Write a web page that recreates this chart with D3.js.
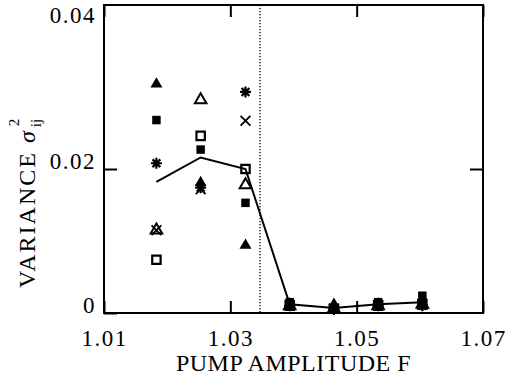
<!DOCTYPE html>
<html>
<head>
<meta charset="utf-8">
<script src="https://cdn.jsdelivr.net/npm/d3@7"></script>
<style>
  body { margin: 0; background: #fff; }
  svg { display: block; font-family: "Liberation Serif", "Times New Roman", serif; }
  .frame { fill: none; stroke: #000; stroke-width: 2; }
</style>
</head>
<body>
<div id="chart"></div>
<script>
// pump amplitude F for each column of measurements
const pumpF = [1.0183, 1.0253, 1.0324, 1.0394, 1.0464, 1.0534, 1.0604];

// variance per symbol series
const filledTriangle = [0.0318, 0.0181, 0.0094, 0.0010, 0.0012, 0.0010, 0.0010];
const filledSquare   = [0.0268, 0.0227, 0.0153, 0.0015, 0.0006, 0.0015, 0.0024];
const asterisk       = [0.0208, 0.0174, 0.0307, 0.0010, 0.0005, 0.0010, 0.0010];
const openTriangle   = [0.0115, 0.0296, 0.0178, 0.0010, 0.0006, 0.0010, 0.0012];
const crossMark      = [0.0115, 0.0172, 0.0267, 0.0011, 0.0006, 0.0011, 0.0013];
const openSquare     = [0.0074, 0.0246, 0.0200, 0.0010, 0.0006, 0.0010, 0.0012];

// mean line
const meanVariance = [0.0182, 0.0216, 0.0200, 0.0012, 0.0007, 0.0012, 0.0015];

// threshold (dotted line)
const thresholdF = [1.0347];

const xTicks = [1.01, 1.03, 1.05, 1.07];
const yTicks = [0, 0.02, 0.04];

const width = 507;
const height = 382;
const margin = {top: 5, right: 24, bottom: 69, left: 104};
const w = width - margin.left - margin.right;
const h = height - margin.top - margin.bottom;
const serif = '"Liberation Serif", "Times New Roman", serif';

let svg = d3.select('#chart').append('svg')
  .attr('width', width)
  .attr('height', height)

let content = svg.append('g')
  .attr('transform', `translate(${margin.left}, ${margin.top})`)

let scaleX = d3.scaleLinear().domain([1.01, 1.07]).range([0, w]);
// 0.02 tick sits 144px above zero in the original, top is a little past 0.04
let scaleY = d3.scaleLinear().domain([0, 0.04278]).range([h, 0]);

// axes, ticks pointing inward
let xBottom = content.append('g')
  .attr('transform', `translate(0, ${h})`)
  .call(d3.axisBottom(scaleX).tickValues(xTicks).tickFormat(d3.format('.2f')).tickSizeInner(-12).tickSizeOuter(0))
xBottom.selectAll('text').attr('y', 33).attr('dy', 0)

content.append('g')
  .call(d3.axisTop(scaleX).tickValues(xTicks).tickFormat('').tickSizeInner(-12).tickSizeOuter(0))

let yLeft = content.append('g')
  .call(d3.axisLeft(scaleY).tickValues(yTicks).tickFormat(d => d === 0 ? '0' : d3.format('.2f')(d)).tickSizeInner(-13).tickSizeOuter(0))
yLeft.selectAll('text').attr('x', -8).attr('dy', -1)
yLeft.selectAll('.tick').filter(d => d === 0.04).select('line').remove()
yLeft.selectAll('.tick').filter(d => d === 0.04).select('text').attr('dy', -3)

content.append('g')
  .attr('transform', `translate(${w}, 0)`)
  .call(d3.axisRight(scaleY).tickValues([0.02]).tickFormat('').tickSizeInner(-13).tickSizeOuter(0))

content.selectAll('.domain').remove()
content.selectAll('.tick line').attr('stroke', '#000').attr('stroke-width', 2)
content.selectAll('.tick text')
  .attr('font-family', serif)
  .attr('font-size', 23)
  .attr('letter-spacing', 1.5)
  .attr('fill', '#000')

content.append('rect')
  .classed('frame', true)
  .attr('x', 0).attr('y', 0)
  .attr('width', w).attr('height', h)

// dotted threshold line
content.selectAll('line.threshold').data(thresholdF).enter().append('line')
  .classed('threshold', true)
  .attr('x1', d => scaleX(d)).attr('x2', d => scaleX(d))
  .attr('y1', 0).attr('y2', h)
  .attr('stroke', '#000')
  .attr('stroke-width', 1.3)
  .attr('stroke-dasharray', '1.3,1.7')

// mean line
let line = d3.line().x((d, i) => scaleX(pumpF[i])).y(d => scaleY(d));
content.append('path')
  .datum(meanVariance)
  .attr('d', line)
  .attr('fill', 'none')
  .attr('stroke', '#000')
  .attr('stroke-width', 2)

let asteriskPath = r => {
  let a = r * Math.SQRT1_2;
  return `M${-r},0L${r},0M0,${-r}L0,${r}M${-a},${-a}L${a},${a}M${-a},${a}L${a},${-a}`;
};

// open symbols first, filled ones on top
let series = [
  {values: openSquare, d: d3.symbol(d3.symbolSquare, 70)(), fill: 'none', stroke: '#000', sw: 2.2},
  {values: openTriangle, d: d3.symbol(d3.symbolTriangle, 58)(), fill: '#fff', stroke: '#000', sw: 2},
  {values: crossMark, d: d3.symbol(d3.symbolTimes, 64)(), fill: 'none', stroke: '#000', sw: 1.8},
  {values: asterisk, d: asteriskPath(5.5), fill: 'none', stroke: '#000', sw: 2.2},
  {values: filledSquare, d: d3.symbol(d3.symbolSquare, 72)(), fill: '#000', stroke: 'none', sw: 0},
  {values: filledTriangle, d: d3.symbol(d3.symbolTriangle, 62)(), fill: '#000', stroke: 'none', sw: 0},
];

series.forEach(s => {
  content.append('g').selectAll('path').data(s.values).enter().append('path')
    .attr('transform', (d, i) => `translate(${scaleX(pumpF[i])}, ${scaleY(d)})`)
    .attr('d', s.d)
    .attr('fill', s.fill)
    .attr('stroke', s.stroke)
    .attr('stroke-width', s.sw)
})

// axis titles
svg.append('text')
  .attr('x', margin.left + w / 2)
  .attr('y', 371)
  .attr('text-anchor', 'middle')
  .attr('letter-spacing', 0.5)
  .style('font-size', '24px')
  .text('PUMP AMPLITUDE F')

let yTitle = svg.append('g')
  .attr('transform', 'translate(35, 288) rotate(-90)')

let main = yTitle.append('text')
  .style('font-size', '24px')
  .attr('letter-spacing', 2)
  .text('VARIANCE ')
main.append('tspan')
  .style('font-style', 'italic')
  .text('σ')

let len = main.node().getComputedTextLength();
yTitle.append('text')
  .attr('x', len + 2)
  .attr('y', 6)
  .style('font-size', '15px')
  .text('ij')
yTitle.append('text')
  .attr('x', len + 3)
  .attr('y', -16)
  .style('font-size', '15px')
  .text('2')
</script>
</body>
</html>
